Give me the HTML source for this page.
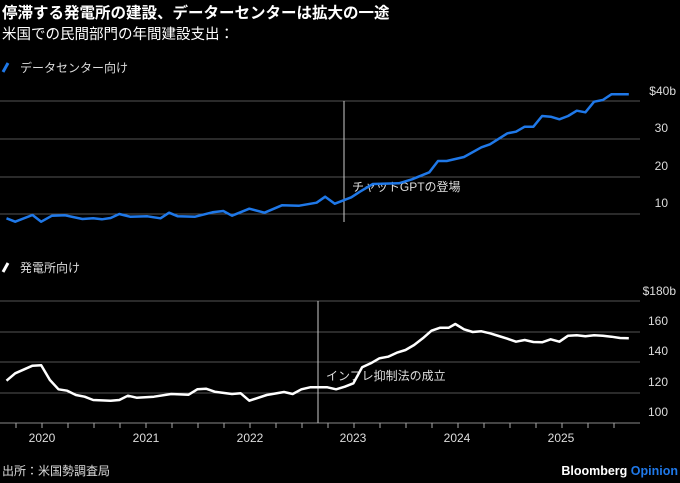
<!DOCTYPE html>
<html><head><meta charset="utf-8"><style>
body{margin:0;background:#000;width:680px;height:483px;overflow:hidden;font-family:"Liberation Sans","Noto Sans CJK JP",sans-serif;color:#fff}
svg{position:absolute;left:0;top:0}
</style></head><body>
<svg id="s" width="680" height="483" xmlns="http://www.w3.org/2000/svg" font-family="Liberation Sans, Noto Sans CJK JP, sans-serif">
<text x="2" y="18" font-size="15.5" font-weight="bold" fill="#fff">停滞する発電所の建設、データーセンターは拡大の一途</text>
<text x="2" y="39" font-size="14.5" fill="#fff">米国での民間部門の年間建設支出：</text>
<line x1="3" y1="72" x2="8" y2="63" stroke="#1f78e8" stroke-width="3"/>
<text x="20" y="72" font-size="12" fill="#ddd">データセンター向け</text>
<line x1="3" y1="272" x2="8" y2="263" stroke="#fff" stroke-width="3"/>
<text x="20" y="272" font-size="12" fill="#ddd">発電所向け</text>
<g stroke="#555" stroke-width="1">
<line x1="0" y1="101" x2="640" y2="101"/><line x1="0" y1="139" x2="640" y2="139"/><line x1="0" y1="177" x2="640" y2="177"/><line x1="0" y1="214" x2="640" y2="214"/>
<line x1="0" y1="301" x2="640" y2="301"/><line x1="0" y1="332" x2="640" y2="332"/><line x1="0" y1="362" x2="640" y2="362"/><line x1="0" y1="393" x2="640" y2="393"/>
</g>
<line x1="0" y1="423" x2="640" y2="423" stroke="#888" stroke-width="1"/>
<g font-size="12" fill="#ddd" text-anchor="end">
<text x="676" y="95">$40b</text><text x="668" y="132">30</text><text x="668" y="170">20</text><text x="668" y="207">10</text>
<text x="676" y="295">$180b</text><text x="668" y="325">160</text><text x="668" y="355">140</text><text x="668" y="386">120</text><text x="668" y="416">100</text>
</g>
<g font-size="12" fill="#ddd" text-anchor="middle">
<text x="42" y="442">2020</text><text x="146" y="442">2021</text><text x="250" y="442">2022</text><text x="353" y="442">2023</text><text x="457" y="442">2024</text><text x="561" y="442">2025</text>
</g>
<g id="ticks" stroke="#aaa" stroke-width="1"></g>
<line x1="344" y1="101" x2="344" y2="222" stroke="#ccc" stroke-width="1"/>
<line x1="318" y1="301" x2="318" y2="423" stroke="#ccc" stroke-width="1"/>
<text x="352" y="191" font-size="12" fill="#ddd">チャットGPTの登場</text>
<text x="326" y="380" font-size="12" fill="#ddd">インフレ抑制法の成立</text>
<polyline id="p1" fill="none" stroke="#1f78e8" stroke-width="2.5" stroke-linejoin="round"/>
<polyline id="p2" fill="none" stroke="#fff" stroke-width="2.5" stroke-linejoin="round"/>
<text x="2" y="475" font-size="12" fill="#ddd">出所：米国勢調査局</text>
<text x="678" y="475" font-size="12.5" font-weight="bold" text-anchor="end" fill="#fff">Bloomberg <tspan fill="#1f78e8">Opinion</tspan></text>
</svg>
<script>
var a=[[15,475],[35,485],[75,465],[95,485],[120,467],[150,466],[190,477],[215,475],[235,478],[255,474],[275,462],[300,470],[340,469],[370,475],[390,458],[410,469],[450,470],[490,457],[515,453],[535,467],[575,446],[610,458],[650,436],[690,437],[730,428],[750,410],[772,431],[810,412],[830,395],[860,372],[920,370],[950,358],[990,337],[1010,303],[1030,303],[1070,291],[1110,262],[1130,253],[1170,220],[1190,215],[1210,200],[1230,200],[1250,168],[1270,170],[1290,178],[1310,168],[1330,152],[1350,157],[1370,125],[1390,120],[1410,103],[1450,103]];
var b=[[15,392],[35,370],[75,347],[95,346],[115,390],[135,418],[155,422],[175,435],[195,440],[215,450],[255,452],[275,450],[295,437],[315,443],[355,440],[395,432],[435,434],[455,418],[475,416],[495,425],[535,432],[555,430],[575,452],[615,435],[655,426],[675,432],[695,418],[715,412],[755,412],[775,418],[795,410],[815,400],[835,352],[855,340],[875,325],[895,320],[915,308],[935,300],[955,285],[975,265],[995,242],[1015,233],[1035,233],[1050,222],[1070,238],[1090,246],[1110,244],[1130,250],[1150,258],[1170,266],[1190,275],[1210,270],[1230,276],[1250,277],[1270,268],[1290,275],[1310,257],[1330,256],[1350,259],[1370,256],[1390,257],[1410,260],[1430,264],[1450,265]];
function f(p,o){return p.map(function(q){return (q[0]/2.306).toFixed(1)+","+(o+q[1]/3).toFixed(1)}).join(" ")}
document.getElementById("p1").setAttribute("points",f(a,60));
document.getElementById("p2").setAttribute("points",f(b,250));
var t="";for(var x=16;x<=615;x+=26)t+='<line x1="'+x+'" y1="423" x2="'+x+'" y2="428"/>';
document.getElementById("ticks").innerHTML=t;
</script>
</body></html>
